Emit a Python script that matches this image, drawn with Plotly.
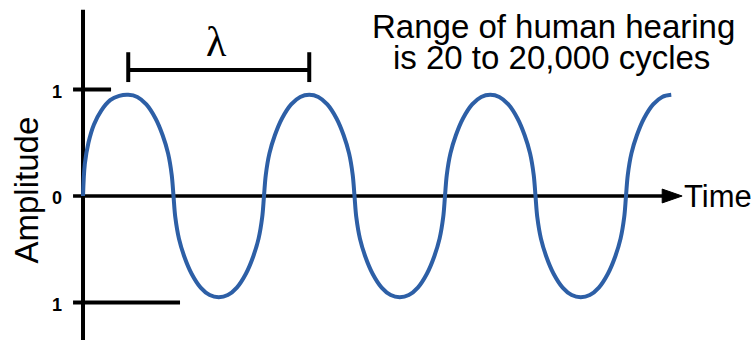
import plotly.graph_objects as go

# time in wavelengths (1 = one full cycle), amplitude
time = [0.00, 0.01, 0.03, 0.06, 0.10, 0.15, 0.20, 0.25,
        0.30, 0.35, 0.40, 0.44, 0.47, 0.49, 0.50,
        0.51, 0.53, 0.56, 0.60, 0.65, 0.70, 0.75,
        0.80, 0.85, 0.90, 0.94, 0.97, 0.99, 1.00,
        1.01, 1.03, 1.06, 1.10, 1.15, 1.20, 1.25,
        1.30, 1.35, 1.40, 1.44, 1.47, 1.49, 1.50,
        1.51, 1.53, 1.56, 1.60, 1.65, 1.70, 1.75,
        1.80, 1.85, 1.90, 1.94, 1.97, 1.99, 2.00,
        2.01, 2.03, 2.06, 2.10, 2.15, 2.20, 2.25,
        2.30, 2.35, 2.40, 2.44, 2.47, 2.49, 2.50,
        2.51, 2.53, 2.56, 2.60, 2.65, 2.70, 2.75,
        2.80, 2.85, 2.90, 2.94, 2.97, 2.99, 3.00,
        3.01, 3.03, 3.06, 3.10, 3.15, 3.20, 3.25]
amplitude = [0.00, 0.30, 0.50, 0.67, 0.80, 0.90, 0.94, 0.95,
             0.93, 0.86, 0.73, 0.57, 0.40, 0.20, 0.00,
             -0.20, -0.40, -0.57, -0.73, -0.86, -0.93, -0.95,
             -0.93, -0.86, -0.73, -0.57, -0.40, -0.20, 0.00,
             0.20, 0.40, 0.57, 0.73, 0.86, 0.93, 0.95,
             0.93, 0.86, 0.73, 0.57, 0.40, 0.20, 0.00,
             -0.20, -0.40, -0.57, -0.73, -0.86, -0.93, -0.95,
             -0.93, -0.86, -0.73, -0.57, -0.40, -0.20, 0.00,
             0.20, 0.40, 0.57, 0.73, 0.86, 0.93, 0.95,
             0.93, 0.86, 0.73, 0.57, 0.40, 0.20, 0.00,
             -0.20, -0.40, -0.57, -0.73, -0.86, -0.93, -0.95,
             -0.93, -0.86, -0.73, -0.57, -0.40, -0.20, 0.00,
             0.20, 0.40, 0.57, 0.73, 0.86, 0.93, 0.95]

tick_vals = [1, 0, -1]
tick_text = ["1", "0", "1"]
wavelength = [0.25, 1.25]   # peak to peak

BLUE = "#2d5fa6"
FONT = "Liberation Sans, Arial, sans-serif"

fig = go.Figure()
fig.add_trace(go.Scatter(x=time, y=amplitude, mode="lines",
                         line=dict(color=BLUE, width=4, shape="spline", smoothing=1.0),
                         hoverinfo="skip", showlegend=False))

blk = dict(color="black", width=4)
# vertical axis
fig.add_shape(type="line", x0=0, x1=0, y0=-1.40, y1=1.75, line=blk, layer="below")
# time axis + arrow head
fig.add_shape(type="line", x0=-0.055, x1=3.22, y0=0, y1=0, line=dict(color="black", width=3.5), layer="below")
fig.add_shape(type="path", path="M 3.20,0.065 L 3.31,0 L 3.20,-0.065 Z",
              fillcolor="black", line=dict(color="black", width=1))
# tick marks
fig.add_shape(type="line", x0=-0.055, x1=0.155, y0=tick_vals[0], y1=tick_vals[0], line=blk)
fig.add_shape(type="line", x0=-0.055, x1=0.536, y0=tick_vals[2], y1=tick_vals[2], line=blk)
for v, t in zip(tick_vals, tick_text):
    fig.add_annotation(x=-0.145, y=v - 0.02, text="<b>%s</b>" % t, showarrow=False,
                       font=dict(family=FONT, size=18, color="black"))

# wavelength bracket
fig.add_shape(type="line", x0=wavelength[0], x1=wavelength[1], y0=1.183, y1=1.183, line=blk)
for w in wavelength:
    fig.add_shape(type="line", x0=w, x1=w, y0=1.07, y1=1.35, line=blk)
fig.add_annotation(x=sum(wavelength) / 2 - 0.01, y=1.45, text="λ", showarrow=False,
                   font=dict(family="Liberation Serif, Times New Roman, serif", size=42, color="black"))

fig.add_annotation(x=-0.31, y=0.06, text="Amplitude", textangle=-90, showarrow=False,
                   font=dict(family=FONT, size=33, color="black"))
fig.add_annotation(x=3.31, y=0, text="Time", xanchor="left", showarrow=False,
                   font=dict(family=FONT, size=31, color="black"))
fig.add_annotation(x=2.60, y=1.59, text="Range of human hearing", showarrow=False,
                   font=dict(family=FONT, size=33, color="black"))
fig.add_annotation(x=2.59, y=1.30, text="is 20 to 20,000 cycles", showarrow=False,
                   font=dict(family=FONT, size=33, color="black"))

fig.update_layout(width=754, height=340, margin=dict(l=0, r=0, t=0, b=0),
                  plot_bgcolor="white", paper_bgcolor="white",
                  xaxis=dict(range=[-0.4586, 3.7072], visible=False, fixedrange=True),
                  yaxis=dict(range=[-1.3521, 1.8404], visible=False, fixedrange=True))

fig.write_html("out.html", config={"displayModeBar": False},
               post_script="document.body.style.margin='0';")
